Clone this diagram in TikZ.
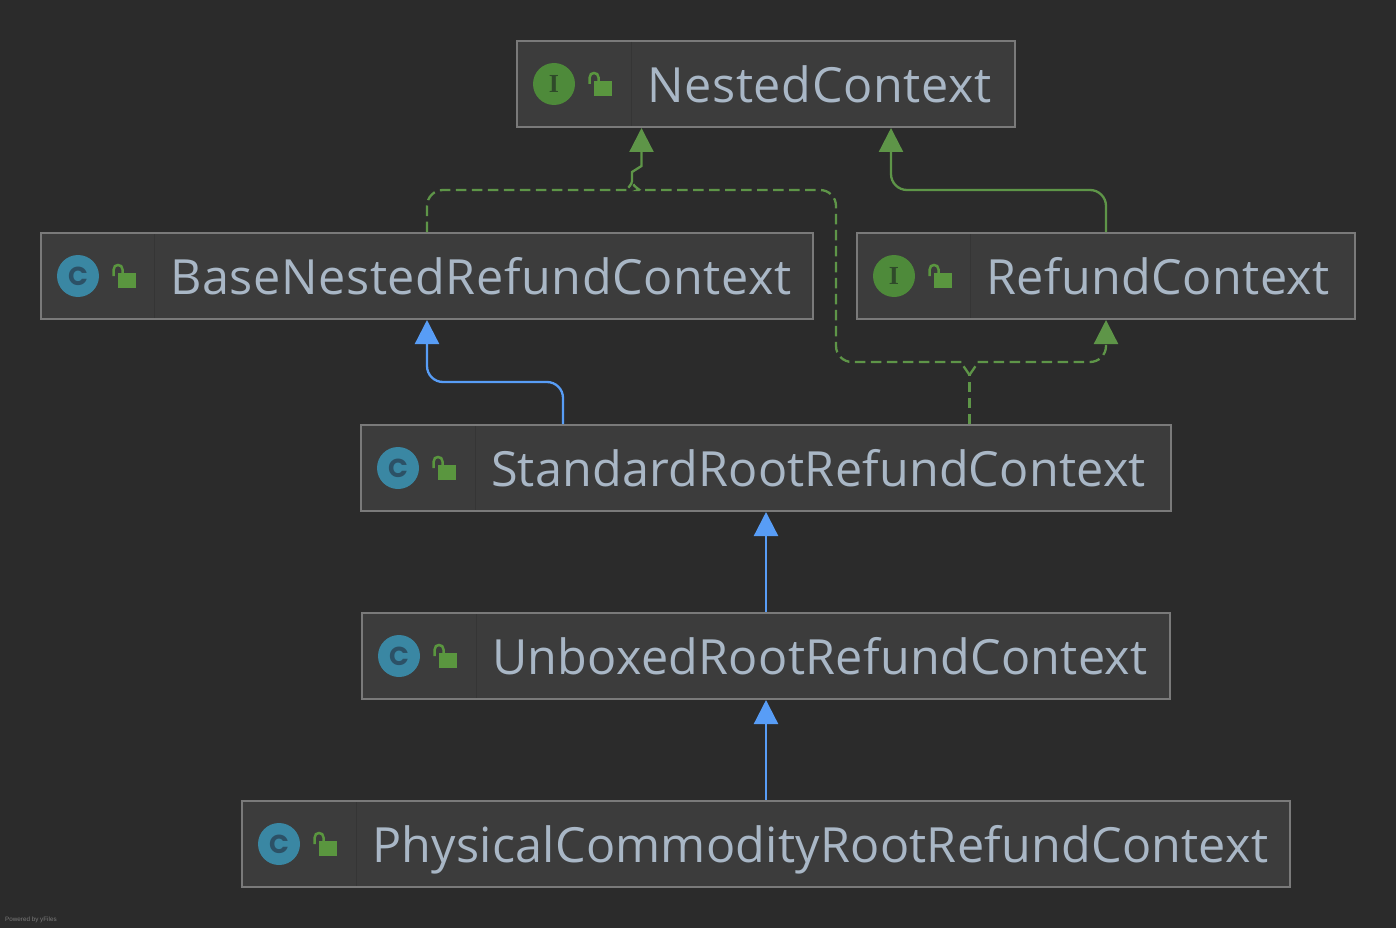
\documentclass[tikz,border=0pt]{standalone}
\usepackage{fontspec}
\usetikzlibrary{positioning,arrows.meta}
\setmainfont{Liberation Sans}
\newfontfamily\classfont{Open Sans}
\newfontfamily\glyphfont{Liberation Serif}
\newfontfamily\circlefont{Poppins}
\newcommand{\spaced}[2]{{\addfontfeature{LetterSpace=#1}#2}}
\definecolor{canvasgrey}{HTML}{2B2B2B}
\definecolor{boxgrey}{HTML}{3C3C3C}
\definecolor{bordergrey}{HTML}{7A7A7A}
\definecolor{dividergrey}{HTML}{353535}
\definecolor{labelblue}{HTML}{A9B7C6}
\definecolor{linkgreen}{HTML}{5E9548}
\definecolor{linkblue}{HTML}{589DF6}
\definecolor{lockgreen}{HTML}{5A963F}
\definecolor{ifacegreen}{HTML}{4E8A3A}
\definecolor{ifacedark}{HTML}{2F4A2A}
\definecolor{classteal}{HTML}{3A87A3}
\definecolor{classdark}{HTML}{2C5166}
\begin{document}
\begin{tikzpicture}[x=1pt,y=-1pt]
\tikzstyle{classbox}=[draw=bordergrey,fill=boxgrey,line width=2pt,minimum height=86pt,inner sep=0pt]
\tikzstyle{classname}=[anchor=base west,inner sep=0pt,text=labelblue,font=\classfont\fontsize{48.5}{50}\selectfont]
\tikzstyle{kindicon}=[circle,minimum size=42pt,inner sep=0pt]
\tikzstyle{link}=[line width=2.3pt,rounded corners=16pt]
\tikzstyle{tipped}=[-{Triangle[length=24pt,width=24pt]}]
\tikzstyle{dashes}=[dash pattern=on 10.5pt off 5.5pt]
\fill [canvasgrey] (0,0) rectangle (1396,928);
\useasboundingbox (0,0) rectangle (1396,928);
\node (nested) [classbox,minimum width=498pt] at (766,84) {};
\node (base) [classbox,minimum width=772pt] at (427,276) {};
\node (refund) [classbox,minimum width=498pt] at (1106,276) {};
\node (standard) [classbox,minimum width=810pt] at (766,468) {};
\node (unboxed) [classbox,minimum width=808pt] at (766,656) {};
\node (physical) [classbox,minimum width=1048pt] at (766,844) {};
\node (nestedname) [classname] at ([xshift=131pt,yshift=-18.5pt]nested.west) {\spaced{1.4}{NestedContext}};
\node (basename) [classname] at ([xshift=130pt,yshift=-18.5pt]base.west) {\spaced{1.25}{BaseNestedRefundContext}};
\node (refundname) [classname] at ([xshift=130pt,yshift=-18.5pt]refund.west) {\spaced{0.9}{RefundContext}};
\node (standardname) [classname] at ([xshift=131pt,yshift=-18.5pt]standard.west) {\spaced{0.4}{StandardRootRefundContext}};
\node (unboxedname) [classname] at ([xshift=131pt,yshift=-18.5pt]unboxed.west) {\spaced{0.6}{UnboxedRootRefundContext}};
\node (physicalname) [classname] at ([xshift=131pt,yshift=-18.5pt]physical.west) {\spaced{0.48}{PhysicalCommodityRootRefundContext}};
\foreach \n/\fillc/\darkc/\fnt/\kind/\rule in {nested/ifacegreen/ifacedark/\glyphfont/I/115,base/classteal/classdark/\circlefont/C/114,refund/ifacegreen/ifacedark/\glyphfont/I/114,standard/classteal/classdark/\circlefont/C/115,unboxed/classteal/classdark/\circlefont/C/115,physical/classteal/classdark/\circlefont/C/115} {
\begin{scope}[shift={(\n.west)}]
\draw [dividergrey,line width=1pt] (\rule,-42) -- (\rule,42);
\node (\n icon) [kindicon,fill=\fillc,text=\darkc,font=\fnt\bfseries\fontsize{26}{26}\selectfont] at (38,0) {\kind};
\fill [lockgreen] (78,-3) rectangle (96,12);
\draw [lockgreen,line width=2.5pt] (73.7,0) -- (73.7,-6.5) .. controls (73.7,-9.5) and (75.5,-11) .. (78,-11) .. controls (80.5,-11) and (82.5,-9.5) .. (82.5,-6.5) -- (82.5,-3);
\end{scope}
}
\coordinate (nestedjoin) at (632,182);
\coordinate (refundjoin) at (969.5,375);
\draw [link,draw=linkgreen,tipped] (refund.north) -- ++(0,-42) -| ([xshift=125pt]nested.south);
\draw [link,draw=linkgreen,dashes] (base.north) -- ++(0,-42) -- (612,190) [rounded corners=0pt] .. controls (624,190) and (630,188) .. (nestedjoin);
\draw [link,draw=linkgreen,dashes] (refundjoin) .. controls (965,368) and (960,362) .. (946,362) [rounded corners=16pt] -- (836,362) -- (836,190) -- (654,190) [rounded corners=0pt] .. controls (642,190) and (634,188) .. (nestedjoin);
\draw [link,draw=linkgreen,tipped,rounded corners=0pt] (nestedjoin) -- (632,172) -- (641.5,166) -- ([xshift=-124.5pt]nested.south);
\draw [link,draw=linkgreen,dashes] ([xshift=203.5pt]standard.north) -- (refundjoin);
\draw [link,draw=linkgreen,dashes,tipped] (refundjoin) .. controls (974,368) and (979,362) .. (993,362) [rounded corners=16pt] -- (1106,362) -- (refund.south);
\draw [link,draw=linkblue,tipped] ([xshift=-203pt]standard.north) -- ++(0,-42) -| (base.south);
\draw [link,draw=linkblue,tipped] (unboxed.north) -- (standard.south);
\draw [link,draw=linkblue,tipped] (physical.north) -- (unboxed.south);
\node (poweredby) [anchor=west,inner sep=0pt,text=bordergrey,font=\fontsize{6.3}{7}\selectfont] at (5,920) {Powered by yFiles};
\end{tikzpicture}
\end{document}
